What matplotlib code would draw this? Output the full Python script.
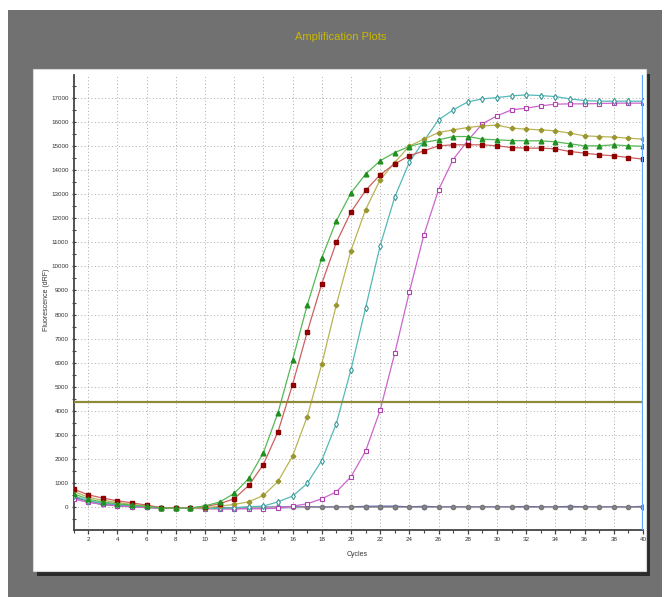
import matplotlib
matplotlib.use("Agg")
import matplotlib.pyplot as plt
from matplotlib.patches import Rectangle
from matplotlib.ticker import MultipleLocator

plt.rcParams['font.family'] = ['Liberation Sans Narrow', 'Liberation Sans', 'DejaVu Sans']

# cycle numbers and fluorescence values (dRF)
cycles = list(range(1, 41))

green = [556, 333, 208, 139, 83, 28, -40, -45, -40, 55, 208, 567, 1190, 2254, 3914, 6100, 8382, 10349,
         11896, 13046, 13834, 14386, 14730, 14979, 15145, 15257, 15394, 15394, 15286, 15257, 15228, 15216,
         15216, 15174, 15092, 15008, 15008, 15050, 15008, 14990]
red = [750, 514, 375, 264, 180, 83, -20, -40, -40, 20, 139, 346, 899, 1770, 3126, 5090, 7261, 9281,
       10996, 12255, 13154, 13805, 14261, 14593, 14801, 15008, 15050, 15050, 15050, 15008, 14938, 14912,
       14912, 14884, 14772, 14705, 14635, 14593, 14523, 14456]
olive = [653, 417, 278, 194, 111, 42, -30, -45, -45, -30, 40, 111, 221, 484, 1065, 2116, 3748, 5934,
         8410, 10658, 12353, 13598, 14315, 15000, 15286, 15560, 15672, 15768, 15838, 15867, 15743, 15701,
         15672, 15631, 15535, 15423, 15394, 15369, 15328, 15286]
teal = [472, 264, 167, 111, 69, 28, -40, -45, -45, -50, -50, -30, 14, 41, 221, 456, 982, 1936,
        3472, 5712, 8271, 10859, 12880, 14330, 15216, 16087, 16500, 16834, 16958, 17012, 17083, 17124,
        17095, 17054, 16958, 16888, 16862, 16862, 16862, 16862]
magenta = [333, 208, 111, 56, 14, -14, -40, -50, -50, -70, -80, -80, -69, -69, -41, 41, 138, 346,
           636, 1259, 2324, 4025, 6390, 8940, 11316, 13183, 14440, 15228, 15921, 16253, 16502, 16572,
           16668, 16738, 16751, 16751, 16765, 16780, 16780, 16780]
navy = [403, 236, 125, 69, 28, 0, -30, -40, -40, -40, -40, -30, -20, -15, -10, -5, 0, 0,
        0, 0, 20, 25, 25, 0, 20, 0, 0, 0, 0, 0, 0, 15, 0, 0, 20, 0, 0, 0, 0, 20]
gray = [380, 220, 115, 60, 20, -5, -35, -45, -45, -45, -45, -35, -25, -20, -15, -10, -5, 0,
        -5, -5, 0, 0, 0, -5, 0, -5, -5, -5, -5, -5, -5, 0, -5, -5, 0, -5, -5, -5, 0, 0]
threshold = 4360

fig = plt.figure(figsize=(6.7, 5.97), dpi=100)
fig.patch.set_facecolor('white')

# gray window, shadow and white panel behind the axes
fig.patches.append(Rectangle((8 / 670, 0), 654 / 670, 587 / 597, transform=fig.transFigure,
                             facecolor='#717171', edgecolor='none', zorder=-3))
fig.patches.append(Rectangle((37 / 670, 1 - 576 / 597), 613 / 670, 502 / 597, transform=fig.transFigure,
                             facecolor='#2b2b2b', edgecolor='none', zorder=-2))
fig.patches.append(Rectangle((33 / 670, 1 - 571 / 597), 613 / 670, 502 / 597, transform=fig.transFigure,
                             facecolor='white', edgecolor='#d8d8d8', linewidth=0.8, zorder=-1))

fig.text(341 / 670, 1 - 37 / 597, 'Amplification Plots', color='#c9b800', fontsize=8,
         ha='center', va='center')

ax = fig.add_axes([73.5 / 670, 1 - 530 / 597, 569.5 / 670, 455 / 597])
ax.set_facecolor('none')

ax.grid(True, which='major', color='#ababab', linestyle=(0, (1, 2.5)), linewidth=0.7)
ax.set_axisbelow(True)

ax.plot(cycles, gray, color='#a8a8a8', lw=1.0, marker='o', ms=3.0, mfc='#888888', mec='#777777', zorder=3)
ax.plot(cycles, navy, color='#333399', lw=1.3, marker='o', ms=3.0, mfc='#333399', mec='#333399',
        markevery=[0, 1, 2, 3, 4, 5, 11, 12, 13, 20, 21, 22, 24, 31, 34, 39], zorder=2)
ax.plot(cycles, magenta, color='#cc66cc', lw=0.9, marker='s', ms=3.4, mfc='white', mec='#b040b0',
        mew=0.8, zorder=4)
ax.plot(cycles, teal, color='#55b8b8', lw=0.9, marker='d', ms=3.2, mfc='white', mec='#3a9a9a',
        mew=0.8, zorder=4)
ax.plot(cycles, olive, color='#b8b455', lw=0.9, marker='P', ms=3.0, mfc='#9a9630', mec='#9a9630', zorder=4)
ax.plot(cycles, red, color='#cc6060', lw=0.9, marker='s', ms=3.4, mfc='#990000', mec='#880000', zorder=4)
ax.plot(cycles, green, color='#55b855', lw=0.9, marker='^', ms=3.4, mfc='#1f8f1f', mec='#1f8f1f', zorder=4)

ax.axhline(threshold, color='#8e8c3c', lw=1.6, zorder=5)
ax.axvline(40, color='#5aa8ff', lw=1.6, zorder=6)

ax.set_xlim(1, 40)
ax.set_ylim(-950, 17950)
ax.xaxis.set_major_locator(MultipleLocator(2))
ax.xaxis.set_minor_locator(MultipleLocator(1))
ax.set_yticks([v for v in range(0, 18000, 1000)])
ax.set_yticks([v for v in range(-500, 18000, 500)], minor=True)

for s in ['top', 'right']:
    ax.spines[s].set_visible(False)
for s in ['left', 'bottom']:
    ax.spines[s].set_color('#444444')
    ax.spines[s].set_linewidth(1.3)

ax.tick_params(axis='both', which='major', labelsize=4.5, colors='#444444', length=3, width=0.9, pad=2)
ax.tick_params(axis='both', which='minor', length=2.5, width=0.8, colors='#444444')
ax.tick_params(axis='y', which='both', direction='inout')
ax.tick_params(axis='x', which='both', direction='out')
for lab in ax.get_xticklabels() + ax.get_yticklabels():
    lab.set_color('#333333')

fig.text(357 / 670, 1 - 555 / 597, 'Cycles', fontsize=5, color='#333333', ha='center', va='center')
fig.text(47 / 670, 1 - 300 / 597, 'Fluorescence (dRF)', fontsize=5, color='#333333', ha='center',
         va='center', rotation=90)

fig.savefig('out.png', dpi=100)
